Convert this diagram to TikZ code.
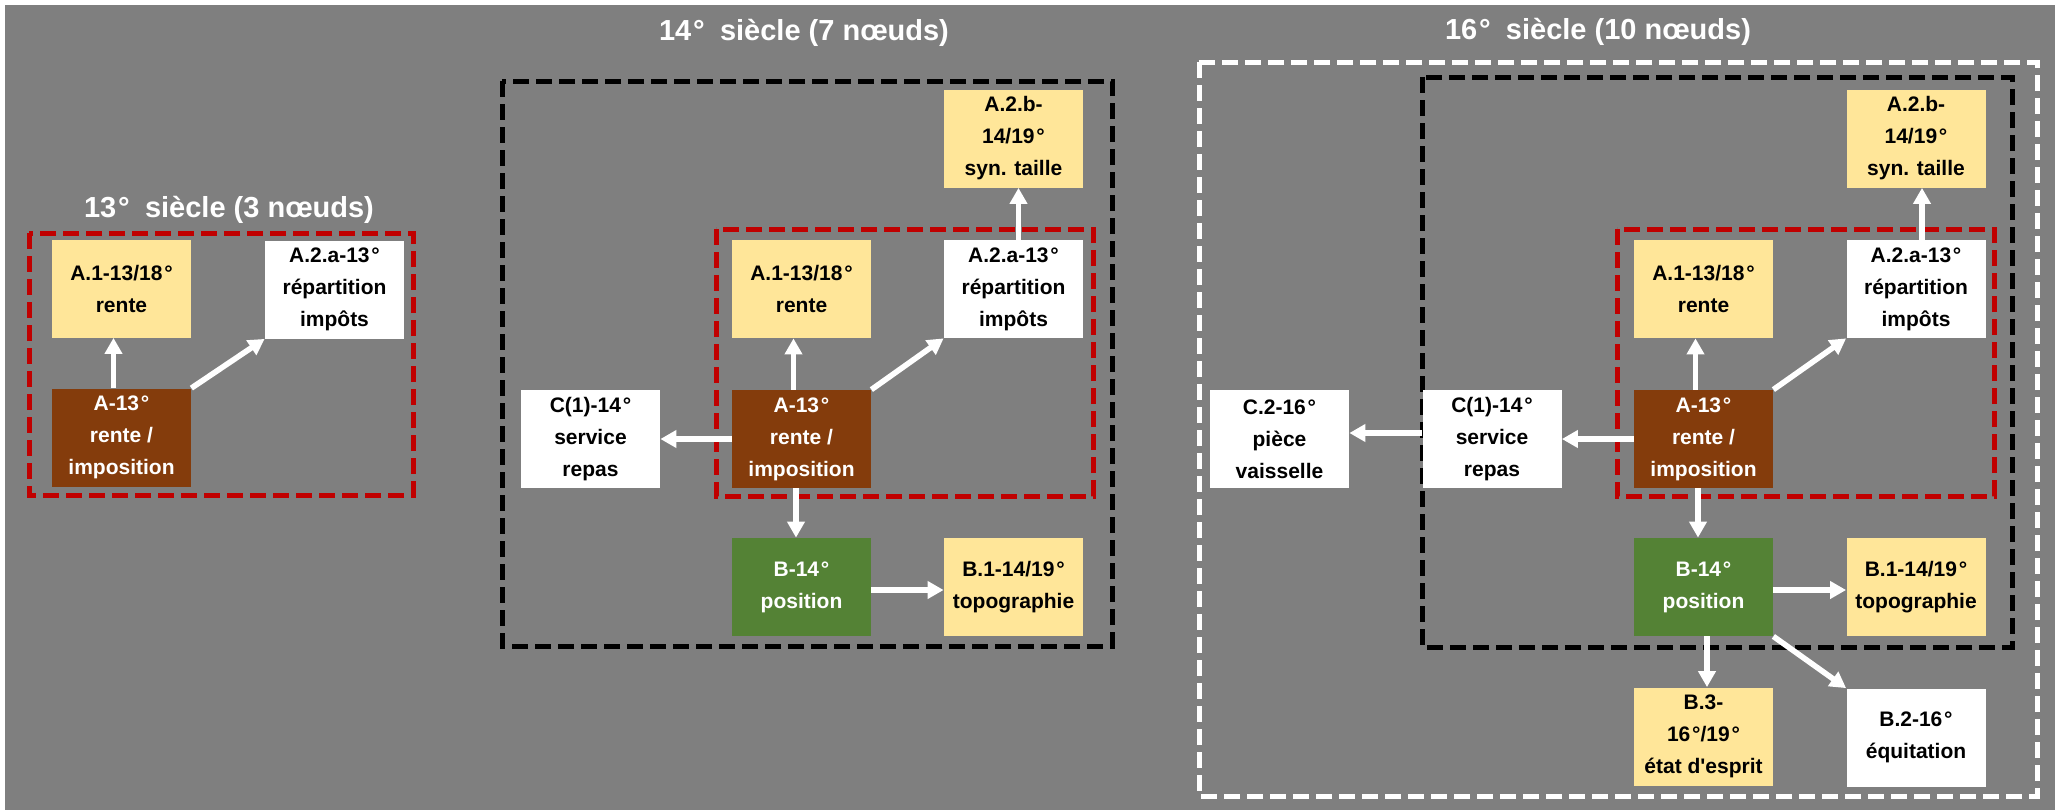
\documentclass[tikz,border=0pt]{standalone}
\usepackage{fontspec}
\setmainfont{Liberation Sans}
\usetikzlibrary{arrows.meta}
\definecolor{bg}{HTML}{7F7F7F}
\definecolor{gold}{HTML}{FFE699}
\definecolor{brownA}{HTML}{843C0C}
\definecolor{greenB}{HTML}{548235}
\definecolor{redF}{HTML}{C00000}
\newcommand\dg{\kern0.9pt°}
\begin{document}
\begin{tikzpicture}[x=0.5pt,y=-0.5pt,
 box/.style={minimum width=69.5pt,minimum height=49pt,inner sep=0pt,align=center,font=\bfseries\fontsize{10.5}{16}\selectfont},
 yel/.style={box,fill=gold,text=black},
 wht/.style={box,fill=white,text=black},
 brn/.style={box,fill=brownA,text=white},
 grn/.style={box,fill=greenB,text=white},
 frame/.style={line width=2.5pt,dash pattern=on 8pt off 3.5pt},
 redframe/.style={frame,draw=redF},
 blkframe/.style={frame,draw=black},
 whtframe/.style={frame,draw=white},
 arr/.style={draw=white,line width=2.8pt,-{Triangle[width=8.5pt,length=8pt]}},
 ttl/.style={text=white,inner sep=0pt,font=\bfseries\fontsize{14.5}{17}\selectfont}]
\useasboundingbox (0,0) rectangle (2063,810);
\fill[white] (0,0) rectangle (2063,810);
\fill[bg] (5,5) rectangle (2055,810);

% titles
\node[ttl] (t13) at (229,210) {13\dg\hspace{0.25em} siècle (3 nœuds)};
\node[ttl] (t14) at (804,33) {14\dg\hspace{0.25em} siècle (7 nœuds)};
\node[ttl] (t16) at (1598,32) {16\dg\hspace{0.25em} siècle (10 nœuds)};

% frames
\draw[redframe] (29,233) rectangle (413,495);
\draw[blkframe] (502,81) rectangle (1112,646);
\draw[redframe] (716,229) rectangle (1093,496);
\draw[whtframe] (1199,62) rectangle (2037,796);
\draw[blkframe] (1422,77) rectangle (2012,647);
\draw[redframe] (1617,229) rectangle (1994,496);

% 13th century
\node[yel] (a1x) at (121.5,288.5) {A.1-13/18\dg\\rente};
\node[wht] (a2ax) at (334.5,289.5) {A.2.a-13\dg\\répartition\\impôts};
\node[brn] (ax) at (121.5,437.5) {A-13\dg\\rente /\\imposition};

% 14th century
\node[yel] (a2by) at (1013.5,138.5) {A.2.b-\\14/19\dg\\syn. taille};
\node[yel] (a1y) at (801.5,289) {A.1-13/18\dg\\rente};
\node[wht] (a2ay) at (1013.5,289) {A.2.a-13\dg\\répartition\\impôts};
\node[brn] (ay) at (801.5,439) {A-13\dg\\rente /\\imposition};
\node[wht] (c1y) at (590.5,439) {C(1)-14\dg\\service\\repas};
\node[grn] (by) at (801.5,587) {B-14\dg\\position};
\node[yel] (b1y) at (1013.5,587) {B.1-14/19\dg\\topographie};

% 16th century
\node[yel] (a2bz) at (1916,138.5) {A.2.b-\\14/19\dg\\syn. taille};
\node[yel] (a1z) at (1703.5,289) {A.1-13/18\dg\\rente};
\node[wht] (a2az) at (1916,289) {A.2.a-13\dg\\répartition\\impôts};
\node[brn] (az) at (1703.5,439) {A-13\dg\\rente /\\imposition};
\node[wht] (c1z) at (1492,439) {C(1)-14\dg\\service\\repas};
\node[wht] (c2z) at (1279.5,439) {C.2-16\dg\\pièce\\vaisselle};
\node[grn] (bz) at (1703.5,587) {B-14\dg\\position};
\node[yel] (b1z) at (1916,587) {B.1-14/19\dg\\topographie};
\node[yel] (b3z) at (1703.5,736.5) {B.3-\\16\dg/19\dg\\état d\textquotesingle esprit};
\node[wht] (b2z) at (1916,737.5) {B.2-16\dg\\équitation};

% arrows 13
\draw[arr] ([xshift=-4pt]ax.north) -- ([xshift=-4pt]a1x.south);
\draw[arr] (ax.north east) -- (a2ax.south west);

% arrows 14
\draw[arr] ([xshift=-4pt]ay.north) -- ([xshift=-4pt]a1y.south);
\draw[arr] (ay.north east) -- (a2ay.south west);
\draw[arr] ([xshift=2.5pt]a2ay.north) -- ([xshift=2.5pt]a2by.south);
\draw[arr] (ay.west) -- (c1y.east);
\draw[arr] ([xshift=-2.75pt]ay.south) -- ([xshift=-2.75pt]by.north);
\draw[arr] ([yshift=-1.5pt]by.east) -- ([yshift=-1.5pt]b1y.west);

% arrows 16
\draw[arr] ([xshift=-4pt]az.north) -- ([xshift=-4pt]a1z.south);
\draw[arr] (az.north east) -- (a2az.south west);
\draw[arr] ([xshift=3pt]a2az.north) -- ([xshift=3pt]a2bz.south);
\draw[arr] (az.west) -- (c1z.east);
\draw[arr] ([yshift=3pt]c1z.west) -- ([yshift=3pt]c2z.east);
\draw[arr] ([xshift=-2.75pt]az.south) -- ([xshift=-2.75pt]bz.north);
\draw[arr] ([yshift=-1.5pt]bz.east) -- ([yshift=-1.5pt]b1z.west);
\draw[arr] ([xshift=1.75pt]bz.south) -- ([xshift=1.75pt]b3z.north);
\draw[arr] (bz.south east) -- (b2z.north west);
\end{tikzpicture}
\end{document}
